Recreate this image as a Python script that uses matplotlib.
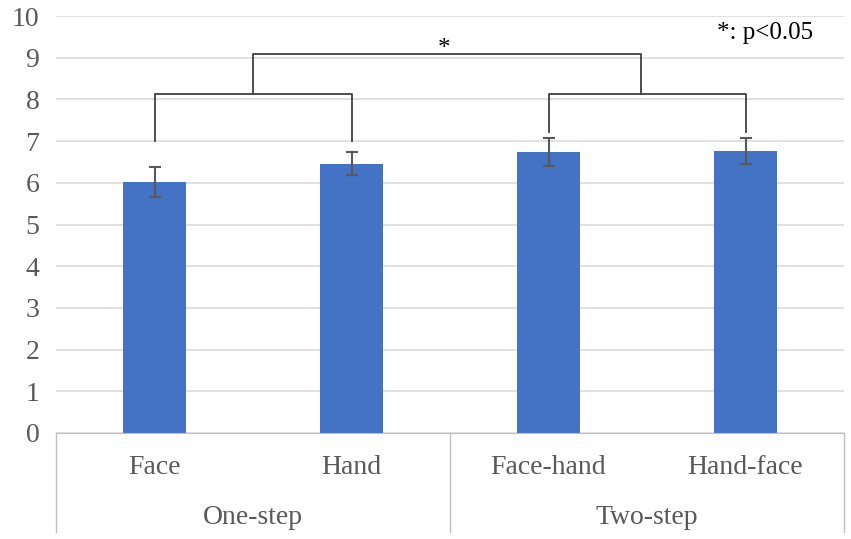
import matplotlib.pyplot as plt

# data
conditions = ["Face", "Hand", "Face-hand", "Hand-face"]
groups = ["One-step", "Two-step"]
means = [6.03, 6.46, 6.74, 6.76]
errors = [0.36, 0.27, 0.33, 0.32]

plt.rcParams['font.family'] = ['Liberation Serif', 'DejaVu Serif']
text_col = '#595959'

fig = plt.figure(figsize=(8.51, 5.39), dpi=100)
ax = fig.add_axes([56 / 851, 106 / 539, 788 / 851, 417 / 539])

x = range(len(conditions))
ax.bar(x, means, width=0.315, color='#4472C4', zorder=3)
ax.errorbar(x, means, yerr=errors, fmt='none', ecolor='#595959',
            elinewidth=1.5, capsize=4, capthick=1.5, zorder=4)

ax.set_xlim(-0.5, 3.5)
ax.set_ylim(0, 10)
ax.set_yticks(range(0, 11))
ax.yaxis.grid(True, color='#D9D9D9', linewidth=1.1, zorder=0)
ax.tick_params(axis='y', length=0, pad=12, labelsize=20, labelcolor=text_col)
ax.tick_params(axis='x', length=0)
ax.set_xticks([])
for s in ['top', 'right', 'left']:
    ax.spines[s].set_visible(False)
ax.spines['bottom'].set_color('#BFBFBF')
ax.spines['bottom'].set_zorder(5)

# two-level category axis
tr = ax.get_xaxis_transform()
for xv in [-0.5, 1.5, 3.5]:
    ax.plot([xv, xv], [0, -0.237], transform=tr, color='#BFBFBF',
            linewidth=1, clip_on=False)
for i, c in enumerate(conditions):
    ax.text(i, -0.083, c, transform=tr, ha='center', va='center',
            fontsize=20, color=text_col)
for i, g in enumerate(groups):
    ax.text(2 * i + 0.5, -0.203, g, transform=tr, ha='center', va='center',
            fontsize=20, color=text_col)

# significance brackets
bc = '#404040'
lw = 1.3
ax.plot([0, 0, 1, 1], [7.0, 8.14, 8.14, 7.0], color=bc, lw=lw, zorder=5)
ax.plot([2, 2, 3, 3], [7.23, 8.14, 8.14, 7.23], color=bc, lw=lw, zorder=5)
ax.plot([0.5, 0.5, 2.47, 2.47], [8.14, 9.09, 9.09, 8.14], color=bc, lw=lw, zorder=5)
ax.text(1.47, 9.2, "*", ha='center', va='center', fontsize=18, color='black')
ax.text(3.1, 9.6, "*: p<0.05", ha='center', va='center', fontsize=18, color='black')

fig.savefig('out.png', dpi=100)
